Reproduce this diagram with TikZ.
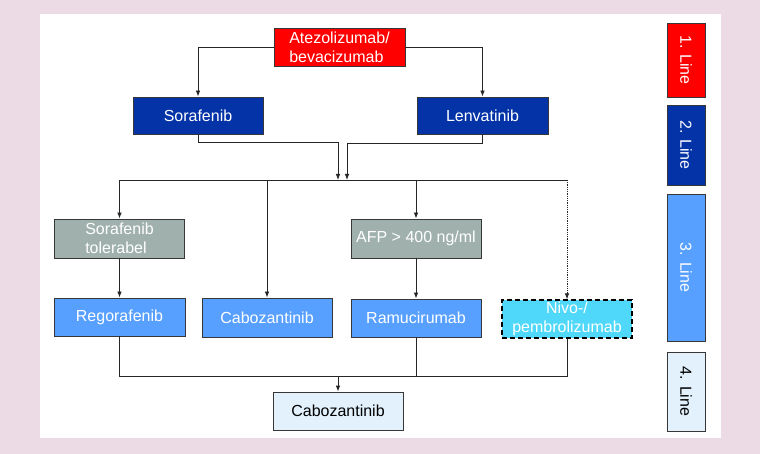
\documentclass[tikz,border=0pt]{standalone}
\usepackage{fontspec}
\setmainfont{Liberation Sans}
\usetikzlibrary{arrows.meta}
\definecolor{bgpink}{RGB}{236,219,229}
\definecolor{cred}{RGB}{255,0,0}
\definecolor{cdark}{RGB}{4,51,168}
\definecolor{clight}{RGB}{87,160,255}
\definecolor{cgray}{RGB}{160,177,173}
\definecolor{ccyan}{RGB}{80,216,250}
\definecolor{cpale}{RGB}{226,241,252}
\definecolor{cborder}{RGB}{55,55,55}
\tikzset{
  box/.style={draw=cborder, line width=0.8pt, rectangle, inner sep=1pt,
    font=\fontsize{16}{19}\selectfont, text=white},
  redbox/.style={box, fill=cred, minimum width=131pt, minimum height=38pt, align=left},
  darkbox/.style={box, fill=cdark, minimum width=130pt, minimum height=37pt},
  lightbox/.style={box, fill=clight, minimum width=130pt, minimum height=38pt},
  graybox/.style={box, fill=cgray, minimum width=130pt, minimum height=39pt, align=left},
  nivobox/.style={box, fill=ccyan, draw=black, dashed, dash pattern=on 5pt off 3pt, line width=1.2pt, minimum width=130pt, minimum height=38pt, align=center},
  palebox/.style={box, fill=cpale, text=black, minimum width=130pt, minimum height=38pt},
  legbox/.style={box, rotate=-90, minimum height=38pt},
  conn/.style={draw=black!85, line width=0.8pt},
  arr/.style={conn, -{Latex[length=6pt,width=4.5pt]}},
}
\begin{document}
\begin{tikzpicture}[x=1pt,y=-1pt]
\fill[bgpink] (0,0) rectangle (760,454);
\fill[white] (40,14) rectangle (721,438);
\useasboundingbox (0,0) rectangle (760,454);

% legend
\node[legbox, fill=cred, minimum width=74pt] (l1) at (686,60) {1. Line};
\node[legbox, fill=cdark, minimum width=80pt] (l2) at (686,145) {2. Line};
\node[legbox, fill=clight, minimum width=147pt] (l3) at (686,267.5) {3. Line};
\node[legbox, fill=cpale, text=black, minimum width=79pt] (l4) at (686,391.5) {4. Line};

% main nodes
\node[redbox] (atezo) at (339.5,47) {Atezolizumab/\\bevacizumab};
\node[darkbox] (sora) at (198,115.5) {Sorafenib};
\node[darkbox, minimum width=131pt] (lenva) at (482.5,115.5) {Lenvatinib};
\node[graybox] (tol) at (119.5,238.5) {Sorafenib\\tolerabel};
\node[graybox] (afp) at (416,238.5) {AFP > 400 ng/ml};
\node[lightbox, minimum width=131pt] (rego) at (119.5,317) {Regorafenib};
\node[lightbox, minimum height=39pt] (cabo3) at (267,317.5) {Cabozantinib};
\node[lightbox] (ramu) at (416,318) {Ramucirumab};
\node[nivobox] (nivo) at (567,319) {Nivo-/\\pembrolizumab};
\node[palebox] (cabo4) at (338,411) {Cabozantinib};

% junctions
\coordinate (j1) at (338,180);
\coordinate (j2) at (347,180);
\coordinate (bus) at (0,180);
\coordinate (bus2) at (0,376);
\coordinate (jb) at (338,376);

% connectors
\draw[arr] (atezo.west) -| (sora.north);
\draw[arr] (atezo.east) -| (lenva.north);
\draw[arr] (sora.south) -- ++(0,8) -| (j1);
\draw[arr] (lenva.south) -- ++(0,9) -| (j2);
\draw[conn] (tol.north |- bus) -- (nivo.north |- bus);
\draw[arr] (tol.north |- bus) -- (tol.north);
\draw[arr] (cabo3.north |- bus) -- (cabo3.north);
\draw[arr] (afp.north |- bus) -- (afp.north);
\draw[arr, densely dotted] (nivo.north |- bus) -- (nivo.north);
\draw[arr] (tol.south) -- (rego.north);
\draw[arr] (afp.south) -- (ramu.north);
\draw[conn] (rego.south) -- (rego.south |- bus2) -- (nivo.south |- bus2) -- (nivo.south);
\draw[conn] (ramu.south) -- (ramu.south |- bus2);
\draw[arr] (jb) -- (cabo4.north);
\end{tikzpicture}
\end{document}
